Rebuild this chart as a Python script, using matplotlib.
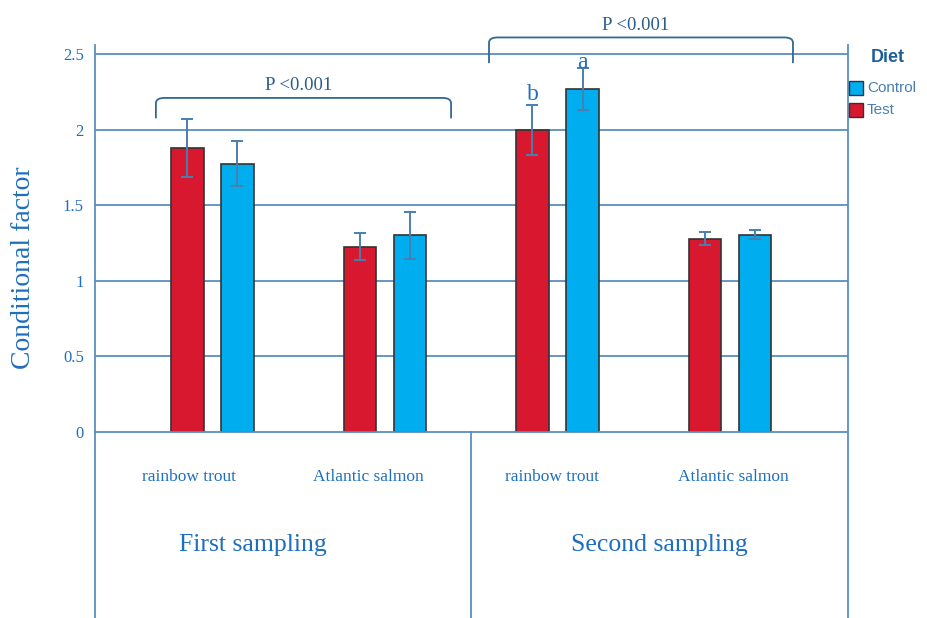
import matplotlib
matplotlib.use("Agg")
import matplotlib.pyplot as plt
from matplotlib.path import Path
from matplotlib.patches import PathPatch, Rectangle
import numpy as np

# ---- data ----
species = ["rainbow trout", "Atlantic salmon", "rainbow trout", "Atlantic salmon"]
samplings = ["First sampling", "Second sampling"]
test_vals = [1.88, 1.225, 1.995, 1.28]
test_err = [0.19, 0.09, 0.165, 0.046]
control_vals = [1.775, 1.30, 2.27, 1.305]
control_err = [0.15, 0.158, 0.14, 0.03]
yticks = [0, 0.5, 1, 1.5, 2, 2.5]
ytick_labels = ["0", "0.5", "1", "1.5", "2", "2.5"]
p_text = "P <0.001"
letters = [(2, "test", "b"), (2, "control", "a")]
legend_title = "Diet"
legend_labels = ["Control", "Test"]

RED = "#d7182f"
BLUE = "#00aeef"
LINE = "#5a8fc0"
TXT = "#1f6fbf"
ERR = "#4a7fb0"
BRK = "#2f6a90"

W, H = 927, 618
fig = plt.figure(figsize=(9.27, 6.18), dpi=100)
ax = fig.add_axes([95/W, 1-432/H, (848-95)/W, (432-45)/H])

x = np.arange(len(species))
off = 0.145
w = 0.19
ax.bar(x - off, test_vals, w, color=RED, edgecolor="#333333", linewidth=1.2, zorder=3)
ax.bar(x + off, control_vals, w, color=BLUE, edgecolor="#333333", linewidth=1.2, zorder=3)
ax.errorbar(x - off, test_vals, yerr=test_err, fmt="none", ecolor=ERR, elinewidth=1.4,
            capsize=4, capthick=1.4, zorder=4)
ax.errorbar(x + off, control_vals, yerr=control_err, fmt="none", ecolor=ERR, elinewidth=1.4,
            capsize=4, capthick=1.4, zorder=4)

ax.set_xlim(-0.681, 3.684)
ax.set_ylim(0, 2.56)
ax.set_yticks(yticks)
ax.set_yticklabels(ytick_labels, family="Liberation Serif", fontsize=12, color=TXT)
ax.set_xticks([])
ax.tick_params(axis="y", length=0, pad=8)
for t in yticks[1:]:
    ax.axhline(t, color=LINE, lw=1.3, zorder=1)
for s in ["top", "right", "bottom", "left"]:
    ax.spines[s].set_visible(False)

# frame lines extending below the axes
bot = -(618-432)/(432-45)
ax.plot([0, 1], [0, 0], transform=ax.transAxes, color=LINE, lw=1.3, clip_on=False, zorder=5)
ax.plot([0, 0], [bot, 1], transform=ax.transAxes, color=LINE, lw=1.3, clip_on=False, zorder=5)
ax.plot([1, 1], [bot, 1], transform=ax.transAxes, color=LINE, lw=1.3, clip_on=False, zorder=5)
xf = ax.get_xaxis_transform()
ax.plot([1.5, 1.5], [bot, 0], transform=xf, color=LINE, lw=1.3, clip_on=False)

# category labels
lab_x = [-0.136, 0.904, 1.97, 3.017]
for xi, s in zip(lab_x, species):
    ax.text(xi, -(477-432)/(432-45), s, transform=xf, ha="center", va="center",
            family="Liberation Serif", fontsize=12.5, color=TXT)
samp_x = [0.235, 2.59]
for xi, s in zip(samp_x, samplings):
    ax.text(xi, -(545-432)/(432-45), s, transform=xf, ha="center", va="center",
            family="Liberation Serif", fontsize=18.5, color=TXT)

ax.set_ylabel("Conditional factor", family="Liberation Serif", fontsize=20, color=TXT)
ax.yaxis.set_label_coords((36-95)/(848-95), (432-268)/(432-45))

# brackets
def bracket(x0, x1, yend, ytop, label):
    r = 0.05
    ry = 0.035
    verts = [(x0, yend), (x0, ytop - ry), (x0, ytop), (x0 + r, ytop),
             (x1 - r, ytop), (x1, ytop), (x1, ytop - ry), (x1, yend)]
    codes = [Path.MOVETO, Path.LINETO, Path.CURVE3, Path.CURVE3,
             Path.LINETO, Path.CURVE3, Path.CURVE3, Path.LINETO]
    ax.add_patch(PathPatch(Path(verts, codes), fill=False, edgecolor=BRK, lw=1.3, clip_on=False))
    ax.text((x0 + x1) / 2 - 0.03, ytop + 0.025, label, ha="center", va="bottom",
            family="Liberation Serif", fontsize=13.5, color="#2a5d8c", clip_on=False)

bracket(-0.328, 1.383, 2.075, 2.21, p_text)
bracket(1.603, 3.365, 2.44, 2.61, p_text)

for gi, which, lt in letters:
    if which == "test":
        xx, yy = gi - off, test_vals[gi] + test_err[gi] + 0.005
    else:
        xx, yy = gi + off, control_vals[gi] + control_err[gi] - 0.035
    ax.text(xx, yy, lt, ha="center", va="bottom", family="Liberation Serif",
            fontsize=17, color=TXT, zorder=6)

# legend (drawn manually, outside the axes)
fig.text(888/W, 1-58/H, legend_title, ha="center", va="center", family="Liberation Sans",
         fontsize=13, fontweight="bold", color="#1f5f99")
for i, (lab, col) in enumerate(zip(legend_labels, [BLUE, RED])):
    yc = 88 + 22*i
    fig.patches.append(Rectangle((849/W, 1-(yc+7)/H), 14/W, 14/H, transform=fig.transFigure,
                                 facecolor=col, edgecolor="#333333", lw=1.0))
    fig.text(867/W, 1-yc/H, lab, ha="left", va="center", family="Liberation Sans",
             fontsize=11, color="#4a7fb0")

fig.savefig("out.png", dpi=100)
